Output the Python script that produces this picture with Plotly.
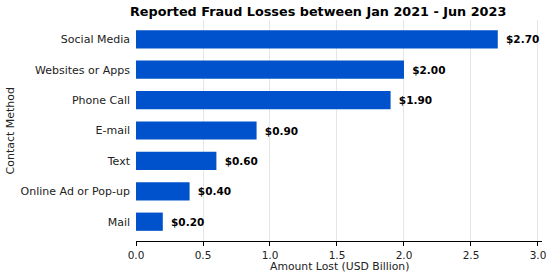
import plotly.graph_objects as go

categories = ["Social Media", "Websites or Apps", "Phone Call", "E-mail", "Text", "Online Ad or Pop-up", "Mail"]
values = [2.70, 2.00, 1.90, 0.90, 0.60, 0.40, 0.20]
labels = ["\u2002$%.2f" % v for v in values]
x_ticks = [0.0, 0.5, 1.0, 1.5, 2.0, 2.5, 3.0]
x_tick_text = ["0.0", "0.5", "1.0", "1.5", "2.0", "2.5", "3.0"]

FONT = "DejaVu Sans"
TXT = "#222"

fig = go.Figure(go.Bar(
    y=categories, x=values, orientation="h",
    marker=dict(color="#0052cc", line=dict(width=0)),
    width=0.6,
    text=labels, textposition="outside",
    textfont=dict(family=FONT, size=10.5, color="black", weight="bold"),
    cliponaxis=False,
    hoverinfo="skip",
))

fig.update_layout(
    width=550, height=273,
    margin=dict(l=136, r=8, t=20, b=32, autoexpand=False),
    paper_bgcolor="white", plot_bgcolor="white",
    font=dict(family=FONT, size=11, color=TXT),
    showlegend=False,
    annotations=[
        dict(text="<b>Reported Fraud Losses between Jan 2021 - Jun 2023</b>",
             xref="paper", yref="paper", x=(318 - 136) / 406, y=1, yanchor="middle", xanchor="center",
             yshift=9, showarrow=False, font=dict(family=FONT, size=12.8, color="black")),
        dict(text="Amount Lost (USD Billion)",
             xref="paper", yref="paper", x=(339 - 136) / 406, y=0, yanchor="middle", xanchor="center",
             yshift=-25, showarrow=False, font=dict(family=FONT, size=10.8, color=TXT)),
        dict(text="Contact Method", textangle=-90,
             xref="paper", yref="paper", x=0, y=0.5, yanchor="middle", xanchor="center",
             xshift=-(136 - 10), showarrow=False, font=dict(family=FONT, size=11, color=TXT)),
    ],
    xaxis=dict(
        range=[0, 3.03], tickvals=x_ticks, ticktext=x_tick_text,
        automargin=False,
        showgrid=True, gridcolor="#e6e6e6", gridwidth=1,
        showline=True, linecolor="black", linewidth=1,
        ticks="outside", ticklen=4, tickcolor="black",
        zeroline=False,
        tickfont=dict(family=FONT, size=10.5, color=TXT),
    ),
    yaxis=dict(
        categoryorder="array", categoryarray=categories,
        autorange=False, range=[6.635, -0.635],
        automargin=False,
        showgrid=False, showline=False, zeroline=False,
        ticks="", ticklabelstandoff=5,
        tickfont=dict(family=FONT, size=11, color=TXT),
    ),
)

fig.write_html("out.html", config={"displayModeBar": False},
               post_script="document.body.style.margin='0';")
